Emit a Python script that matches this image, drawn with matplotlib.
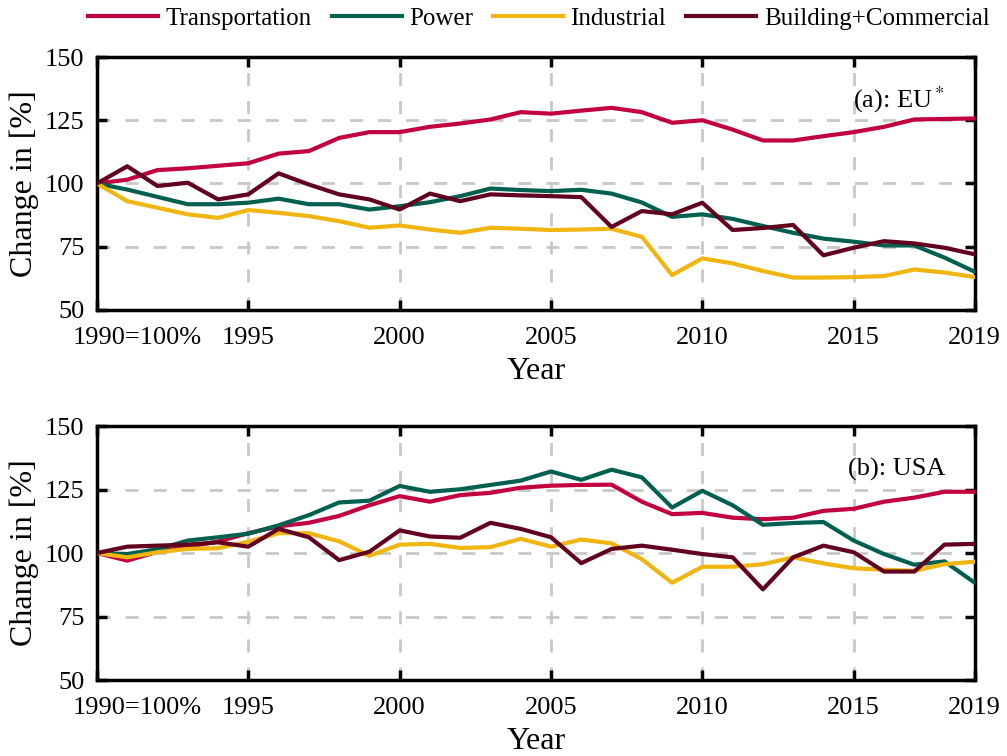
import matplotlib
matplotlib.use("Agg")
import matplotlib.pyplot as plt
import matplotlib.transforms as mtransforms

# ------------------------------------------------------------------
# Data (index, 1990 = 100 %)
# ------------------------------------------------------------------
years = list(range(1990, 2020))

eu_transport = [100, 101.5, 105.3, 106, 107, 108, 111.8, 112.8, 118, 120.3,
                120.3, 122.4, 123.7, 125.3, 128.2, 127.6, 128.8, 129.9, 128.2, 124,
                125, 121.3, 117, 117, 118.7, 120.3, 122.4, 125.3, 125.5, 125.7]
eu_power = [100, 97.6, 94.7, 91.8, 91.8, 92.4, 94, 91.8, 91.8, 89.7,
            91, 92.6, 95, 98, 97.4, 97, 97.5, 96, 92.5, 86.8,
            87.8, 86, 83.2, 80.5, 78.2, 77, 75.5, 75.5, 70.7, 65.1]
eu_industrial = [100, 93, 90.4, 87.8, 86.4, 89.5, 88.4, 87.1, 85.1, 82.5,
                 83.4, 81.8, 80.5, 82.5, 82.1, 81.6, 81.8, 82.1, 78.9, 63.8,
                 70.4, 68.4, 65.4, 62.8, 62.8, 63, 63.4, 66, 64.8, 63]
eu_building = [100, 106.8, 99, 100.3, 93.7, 95.7, 104, 99.6, 95.7, 93.7,
               89.7, 96, 93, 95.7, 95.3, 95, 94.6, 82.8, 89.1, 87.8,
               92.4, 81.6, 82.4, 83.6, 71.6, 74.6, 77.2, 76.3, 74.6, 72]

us_transport = [100, 97, 100.5, 102.5, 104.5, 107.8, 110.5, 111.9, 114.6, 118.8,
                122.4, 120.2, 122.8, 123.7, 125.7, 126.5, 126.8, 126.9, 120.2, 115.3,
                115.8, 113.9, 113.3, 113.9, 116.6, 117.4, 120.2, 121.8, 124.1, 124.1]
us_power = [100, 99.6, 101.5, 104.9, 106.2, 107.6, 110.9, 114.9, 119.9, 120.6,
            126.4, 124.1, 125.1, 126.8, 128.5, 132.1, 128.8, 132.8, 129.8, 117.9,
            124.5, 118.8, 111.1, 111.8, 112.2, 104.9, 99.6, 95.4, 96.7, 88.3]
us_industrial = [100, 98.3, 100.3, 101.6, 101.9, 104.5, 107.8, 107.8, 104.6, 98.9,
                 103.3, 103.6, 102, 102.3, 105.6, 102.5, 105.3, 103.8, 97.6, 88.3,
                 94.6, 94.6, 95.6, 98.3, 95.9, 94, 93.4, 93, 95.6, 96.6]
us_building = [100, 102.5, 102.9, 103.3, 104.2, 102.5, 109.5, 106.2, 97.2, 100.5,
               108.9, 106.5, 106, 111.9, 109.5, 106.2, 96, 101.6, 102.9, 101.3,
               99.6, 98.3, 85.7, 98.3, 102.9, 100.3, 92.7, 92.7, 103.3, 103.6]

sectors = ["Transportation", "Power", "Industrial", "Building+Commercial"]
colors = ["#C2003F", "#00604F", "#F0B50F", "#62001F"]

xticks = [1990, 1995, 2000, 2005, 2010, 2015, 2019]
xticklabels = ["1990=100%", "1995", "2000", "2005", "2010", "2015", "2019"]
yticks = [50, 75, 100, 125, 150]

plt.rcParams["font.family"] = ["Liberation Serif", "DejaVu Serif"]
plt.rcParams["mathtext.fontset"] = "stix"

fig = plt.figure(figsize=(10.07, 7.56), dpi=100)
ax_eu = fig.add_axes([0.0963, 0.590, 0.8717, 0.3346])
ax_us = fig.add_axes([0.0963, 0.1005, 0.8717, 0.336])

panels = [
    (ax_eu, [eu_transport, eu_power, eu_industrial, eu_building], r"(a): EU$^*$"),
    (ax_us, [us_transport, us_power, us_industrial, us_building], "(b): USA"),
]

for ax, series, tag in panels:
    for name, vals, c in zip(sectors, series, colors):
        ax.plot(years, vals, color=c, lw=3, label=name, zorder=3)
    ax.set_xlim(1990, 2019)
    ax.set_ylim(50, 150)
    ax.set_xticks(xticks)
    ax.set_xticklabels(xticklabels)
    ax.set_yticks(yticks)
    ax.tick_params(direction="in", length=7, width=2.5, labelsize=19,
                   top=True, right=True, pad=9)
    ax.tick_params(axis="x", pad=12)
    for sp in ax.spines.values():
        sp.set_linewidth(2.5)
    ax.grid(True, color="#C8C8C8", lw=2, ls=(0, (4.7, 5.4)), zorder=1)
    ax.set_xlabel("Year", fontsize=23, labelpad=6)
    ax.set_ylabel("Change in [%]", fontsize=23, labelpad=4)
    ax.text(0.966, 0.83, tag, transform=ax.transAxes, ha="right", va="center",
            fontsize=19)
    # shift the first label so it sits like the original
    lbl = ax.get_xticklabels()[0]
    lbl.set_horizontalalignment("left")
    lbl.set_transform(lbl.get_transform() +
                      mtransforms.ScaledTranslation(-0.24, 0, fig.dpi_scale_trans))

handles, labels = ax_eu.get_legend_handles_labels()
fig.legend(handles, labels, loc="upper center", bbox_to_anchor=(0.535, 1.02),
           ncol=4, frameon=False, fontsize=18, handlelength=2.8,
           handletextpad=0.3, columnspacing=0.8)

fig.savefig("out.png", dpi=100)
